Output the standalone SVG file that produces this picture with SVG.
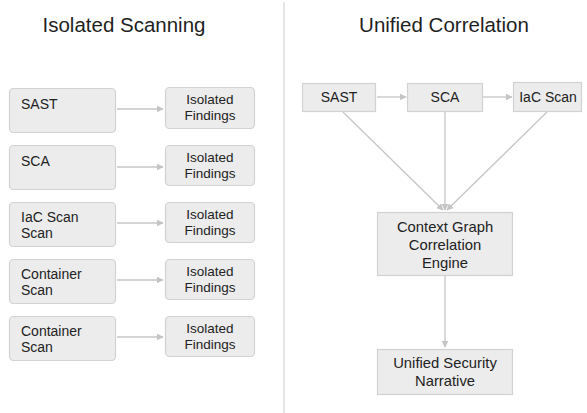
<svg xmlns="http://www.w3.org/2000/svg" width="587" height="413" viewBox="0 0 587 413">
  <defs>
    <marker id="arrow" viewBox="0 0 10 10" refX="9" refY="5" markerWidth="7" markerHeight="7" markerUnits="userSpaceOnUse" orient="auto">
      <path d="M0,0 L10,5 L0,10 z" fill="#c4c4c4"/>
    </marker>
    <style>
      .title { font-family: "Liberation Sans", Arial, sans-serif; font-size: 20.5px; fill: #1f1f1f; text-anchor: middle; }
      .lbl { font-family: "Liberation Sans", Arial, sans-serif; font-size: 14px; fill: #222; }
      .ctr { text-anchor: middle; }
      .sm { font-size: 13.5px; }
      .mid { font-size: 14.8px; }
      .box { fill: #ececec; stroke: #d2d2d2; stroke-width: 1.2; }
      .edge { stroke: #c6c6c6; stroke-width: 1.3; fill: none; marker-end: url(#arrow); }
      .divider { stroke: #d4d4d4; stroke-width: 1.2; }
    </style>
  </defs>

  <rect width="587" height="413" fill="#ffffff"/>

  <!-- headings and divider -->
  <text class="title" x="124" y="32">Isolated Scanning</text>
  <text class="title" x="444" y="32">Unified Correlation</text>
  <line class="divider" x1="284" y1="2" x2="284" y2="413"/>

  <!-- connectors -->
  <g id="connectors">
    <line class="edge" x1="117" y1="109" x2="163" y2="109"/>
    <line class="edge" x1="117" y1="167" x2="163" y2="167"/>
    <line class="edge" x1="117" y1="223" x2="163" y2="223"/>
    <line class="edge" x1="117" y1="280" x2="163" y2="280"/>
    <line class="edge" x1="117" y1="337" x2="163" y2="337"/>

    <line class="edge" x1="377" y1="97" x2="406" y2="97"/>
    <line class="edge" x1="483" y1="97" x2="512" y2="97"/>
    <line class="edge" x1="343" y1="112" x2="443" y2="210"/>
    <line class="edge" x1="445" y1="112" x2="445" y2="210"/>
    <line class="edge" x1="547" y1="112" x2="447" y2="210"/>
    <line class="edge" x1="445" y1="276" x2="445" y2="347"/>
  </g>

  <!-- isolated scanners -->
  <g id="left-sast">
    <rect class="box" x="9.5" y="88.5" width="106" height="44" rx="4"/>
    <text class="lbl" x="21" y="109">SAST</text>
  </g>
  <g id="left-sca">
    <rect class="box" x="9.5" y="145.5" width="106" height="44" rx="4"/>
    <text class="lbl" x="21" y="166">SCA</text>
  </g>
  <g id="left-iac">
    <rect class="box" x="9.5" y="202.5" width="106" height="44" rx="4"/>
    <text class="lbl" x="21" y="222">IaC Scan</text>
    <text class="lbl" x="21" y="238">Scan</text>
  </g>
  <g id="left-container-1">
    <rect class="box" x="9.5" y="259.5" width="106" height="44" rx="4"/>
    <text class="lbl" x="21" y="279">Container</text>
    <text class="lbl" x="21" y="295">Scan</text>
  </g>
  <g id="left-container-2">
    <rect class="box" x="9.5" y="316.5" width="106" height="44" rx="4"/>
    <text class="lbl" x="21" y="336">Container</text>
    <text class="lbl" x="21" y="352">Scan</text>
  </g>

  <!-- isolated findings -->
  <g id="findings-1">
    <rect class="box" x="165.5" y="87.5" width="89" height="41" rx="4"/>
    <text class="lbl sm ctr" x="210" y="104">Isolated</text>
    <text class="lbl sm ctr" x="210" y="120">Findings</text>
  </g>
  <g id="findings-2">
    <rect class="box" x="165.5" y="145.5" width="89" height="40" rx="4"/>
    <text class="lbl sm ctr" x="210" y="162">Isolated</text>
    <text class="lbl sm ctr" x="210" y="178">Findings</text>
  </g>
  <g id="findings-3">
    <rect class="box" x="165.5" y="202.5" width="89" height="40" rx="4"/>
    <text class="lbl sm ctr" x="210" y="219">Isolated</text>
    <text class="lbl sm ctr" x="210" y="235">Findings</text>
  </g>
  <g id="findings-4">
    <rect class="box" x="165.5" y="259.5" width="89" height="40" rx="4"/>
    <text class="lbl sm ctr" x="210" y="276">Isolated</text>
    <text class="lbl sm ctr" x="210" y="292">Findings</text>
  </g>
  <g id="findings-5">
    <rect class="box" x="165.5" y="316.5" width="89" height="40" rx="4"/>
    <text class="lbl sm ctr" x="210" y="333">Isolated</text>
    <text class="lbl sm ctr" x="210" y="349">Findings</text>
  </g>

  <!-- unified pipeline -->
  <g id="right-sast">
    <rect class="box" x="302.5" y="83.5" width="73" height="28"/>
    <text class="lbl ctr" x="339" y="102">SAST</text>
  </g>
  <g id="right-sca">
    <rect class="box" x="407.5" y="83.5" width="75" height="28"/>
    <text class="lbl ctr" x="445" y="102">SCA</text>
  </g>
  <g id="right-iac">
    <rect class="box" x="513.5" y="82.5" width="68" height="29"/>
    <text class="lbl ctr" x="548" y="102">IaC Scan</text>
  </g>
  <g id="context-engine">
    <rect class="box" x="377.5" y="212.5" width="135" height="63"/>
    <text class="lbl mid ctr" x="445" y="232">Context Graph</text>
    <text class="lbl mid ctr" x="445" y="250">Correlation</text>
    <text class="lbl mid ctr" x="445" y="268">Engine</text>
  </g>
  <g id="unified-narrative">
    <rect class="box" x="377.5" y="349.5" width="135" height="45"/>
    <text class="lbl mid ctr" x="445" y="368">Unified Security</text>
    <text class="lbl mid ctr" x="445" y="386">Narrative</text>
  </g>
</svg>
